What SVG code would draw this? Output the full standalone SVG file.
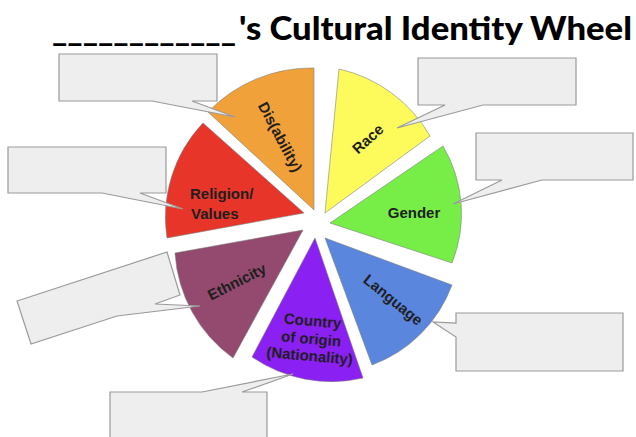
<svg xmlns="http://www.w3.org/2000/svg" width="636" height="437" viewBox="0 0 636 437">
<style>
.slice{stroke:#7a7a7a;stroke-width:0.8;stroke-opacity:0.7}
.lbl{font-family:"Liberation Sans",Arial,sans-serif;font-weight:bold;font-size:15px;fill:#1e1e1e;text-anchor:middle}
.box{fill:#eeeeee;stroke:#9a9a9a;stroke-width:1.2}
.title{font-family:Lato,"Liberation Sans",sans-serif;font-weight:900;fill:#000}
</style>
<rect width="636" height="437" fill="#ffffff"/>
<g id="title">
<text class="title" x="52" y="41" font-size="32" textLength="184" lengthAdjust="spacingAndGlyphs">____________</text>
<text class="title" x="239" y="40" font-size="33" textLength="393" lengthAdjust="spacingAndGlyphs">'s Cultural Identity Wheel</text>
</g>
<g id="slice-disability">
<path class="slice" fill="#f1a13a" d="M314,210 L208,112 A143,143 0 0 1 314,68 Z"/>
<text class="lbl" font-size="14.5" transform="translate(280,137) rotate(62)" y="5">Dis(ability)</text>
</g>
<g id="slice-race">
<path class="slice" fill="#fdfb5c" d="M325,213 L339,69 A140,140 0 0 1 430,136 Z"/>
<text class="lbl" transform="translate(368,139) rotate(-42)" y="5">Race</text>
</g>
<g id="slice-gender">
<path class="slice" fill="#77ee48" d="M330,223 L443,146 A133,133 0 0 1 452,263 Z"/>
<text class="lbl" x="414" y="218">Gender</text>
</g>
<g id="slice-language">
<path class="slice" fill="#5b86dd" d="M325,238 L452,285 A135,135 0 0 1 372,365 Z"/>
<text class="lbl" font-size="14" transform="translate(393,300) rotate(39)" y="5">Language</text>
</g>
<g id="slice-country">
<path class="slice" fill="#8b20f3" d="M315,238 L363,378 A140,140 0 0 1 252,357 Z"/>
<g transform="rotate(5 311 340)">
<text class="lbl" font-size="14.5" x="311" y="326">Country</text>
<text class="lbl" font-size="14.5" x="311" y="344">of origin</text>
<text class="lbl" font-size="12" x="311" y="361">(Nationality)</text>
</g>
</g>
<g id="slice-ethnicity">
<path class="slice" fill="#934a6e" d="M303,230 L233,358 A140,140 0 0 1 175,253 Z"/>
<text class="lbl" transform="translate(237,282) rotate(-27)" y="5">Ethnicity</text>
</g>
<g id="slice-religion">
<path class="slice" fill="#e8352a" d="M304,213 L167,238 A137,137 0 0 1 203,123 Z"/>
<text class="lbl" x="190" y="199" style="text-anchor:start">Religion/</text>
<text class="lbl" x="191" y="219" style="text-anchor:start">Values</text>
</g>
<g id="callout-disability">
<path class="box" d="M59,54 H217 V101 H192 L235,117 L152,101 H59 Z"/>
</g>
<g id="callout-religion">
<path class="box" d="M8,147 H166 V193 H140 L183,209 L102,193 H8 Z"/>
</g>
<g id="callout-race">
<path class="box" d="M418,58 H576 V105 H483 L397,128 L445,105 H418 Z"/>
</g>
<g id="callout-gender">
<path class="box" d="M476,133 H633 V180 H542 L453,204 L502,180 H476 Z"/>
</g>
<g id="callout-ethnicity">
<path class="box" d="M17,301 L167,252 L180,295 L155,304 L200,306 L117,316 L31,344 Z"/>
</g>
<g id="callout-country">
<path class="box" d="M110,392 H202 L293,374 L242,392 H267 V440 H110 Z"/>
</g>
<g id="callout-language">
<path class="box" d="M456,313 H623 V371 H456 V337 L433,322 L456,323 Z"/>
</g>
</svg>
